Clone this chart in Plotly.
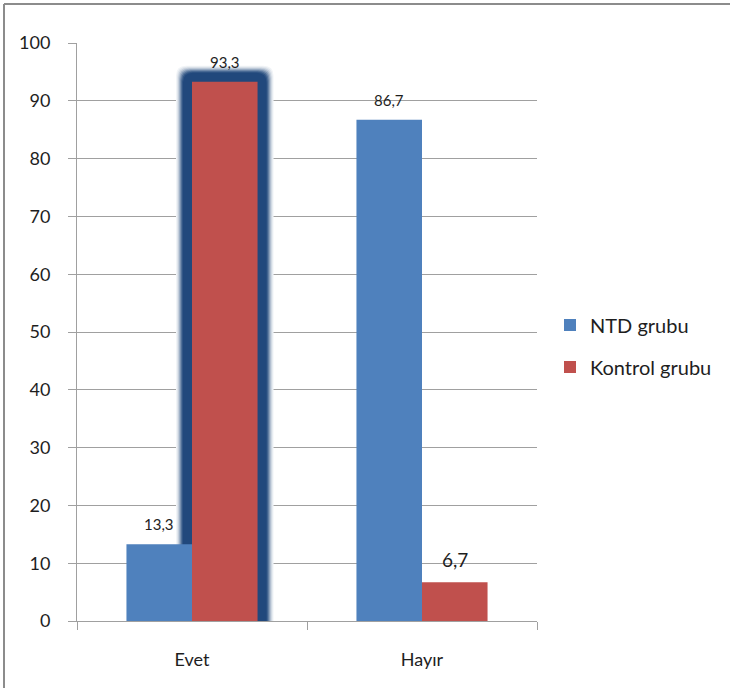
import plotly.graph_objects as go

# Data
categories = ["Evet", "Hayır"]
ntd_values = [13.3, 86.7]
kontrol_values = [93.3, 6.7]
series_names = ["NTD grubu", "Kontrol grubu"]
y_ticks = [0, 10, 20, 30, 40, 50, 60, 70, 80, 90, 100]

# Styling
BLUE = "#4F81BD"
RED = "#C0504D"
NAVY = (33, 72, 124)
FONT = "Lato"
TEXT = "#1e1e1e"
GRID = "#a0a0a0"

W, H = 730, 688
M_L, M_R, M_T, M_B = 77, 193, 43, 67
PLOT_W = W - M_L - M_R
PLOT_H = H - M_T - M_B
BARGAP = 0.43
Y_MAX = 100

cat_px = PLOT_W / len(categories)
bar_px = cat_px * (1 - BARGAP) / 2
px_per_unit = PLOT_H / Y_MAX


def fmt(v):
    return f"{v:.1f}".replace(".", ",")


fig = go.Figure()
fig.add_trace(go.Bar(name=series_names[0], x=categories, y=ntd_values,
                     legendgroup="ntd",
                     marker=dict(color=BLUE, line=dict(width=0))))
fig.add_trace(go.Bar(name=series_names[1], x=categories, y=kontrol_values,
                     legendgroup="kontrol",
                     marker=dict(color=RED, line=dict(width=0))))

# Value labels above each bar
label_sizes = {(0, 0): 15, (0, 1): 15, (1, 0): 15, (1, 1): 19}
for si, vals in enumerate([ntd_values, kontrol_values]):
    for ci, (cat, v) in enumerate(zip(categories, vals)):
        xshift = (-bar_px / 2) if si == 0 else (bar_px / 2)
        fig.add_annotation(x=cat, y=v, xref="x", yref="y", text=fmt(v),
                           showarrow=False, yanchor="bottom", xanchor="center",
                           xshift=xshift, yshift=9,
                           font=dict(family=FONT, size=label_sizes[(ci, si)], color=TEXT))

# Soft dark glow around the highlighted Kontrol bar (Evet)
hl_val = kontrol_values[0]


def rounded_path(pad, r):
    # x in pixels relative to the category centre, y in data units
    x0, x1 = -pad, bar_px + pad
    ytop = hl_val + pad / px_per_unit
    ry = r / px_per_unit
    ybot = -5
    return (f"M {x0},{ybot} L {x0},{ytop - ry} Q {x0},{ytop} {x0 + r},{ytop} "
            f"L {x1 - r},{ytop} Q {x1},{ytop} {x1},{ytop - ry} L {x1},{ybot} Z")


glow_steps = [(16, 0.06), (15, 0.14), (14, 0.26), (13, 0.42), (12, 0.6),
              (11, 0.78), (10, 0.92), (9, 1.0)]
for pad, strength in glow_steps:
    c = tuple(int(255 - (255 - ch) * strength) for ch in NAVY)
    fig.add_shape(type="path", path=rounded_path(pad, 10), xref="x", yref="y",
                  xsizemode="pixel", xanchor=0, layer="between",
                  fillcolor=f"rgb{c}", line=dict(width=0))


# Outer frame (top and left edges)
def px_to_paper_x(px):
    return (px - M_L) / PLOT_W


def px_to_paper_y(py):
    return (H - M_B - py) / PLOT_H


fig.add_shape(type="line", xref="paper", yref="paper",
              x0=px_to_paper_x(4), x1=px_to_paper_x(W + 2),
              y0=px_to_paper_y(4), y1=px_to_paper_y(4),
              line=dict(color="#8c8c8c", width=2), layer="above")
fig.add_shape(type="line", xref="paper", yref="paper",
              x0=px_to_paper_x(4), x1=px_to_paper_x(4),
              y0=px_to_paper_y(4), y1=px_to_paper_y(H + 2),
              line=dict(color="#8c8c8c", width=2), layer="above")

fig.update_layout(
    width=W, height=H,
    margin=dict(l=M_L, r=M_R, t=M_T, b=M_B, pad=0),
    paper_bgcolor="white", plot_bgcolor="white",
    barmode="group", bargap=BARGAP, bargroupgap=0,
    font=dict(family=FONT, color=TEXT),
    showlegend=True,
    legend=dict(x=px_to_paper_x(550), xanchor="left",
                y=px_to_paper_y(346), yanchor="middle",
                xref="paper", yref="paper",
                font=dict(family=FONT, size=20, color=TEXT),
                bgcolor="rgba(0,0,0,0)", itemwidth=30,
                tracegroupgap=13, traceorder="grouped"),
    xaxis=dict(type="category", showgrid=False, showline=True, linecolor=GRID,
               linewidth=1, ticks="outside", ticklen=8, tickcolor=GRID,
               tickson="boundaries", tickfont=dict(family=FONT, size=18, color=TEXT),
               ticklabelstandoff=22),
    yaxis=dict(range=[0, Y_MAX], tickvals=y_ticks, showgrid=True, gridcolor=GRID,
               gridwidth=1, showline=True, linecolor=GRID, linewidth=1,
               ticks="outside", ticklen=8, tickcolor=GRID, zeroline=False,
               tickfont=dict(family=FONT, size=18, color=TEXT),
               ticklabelstandoff=14),
)

fig.write_html("out.html")
